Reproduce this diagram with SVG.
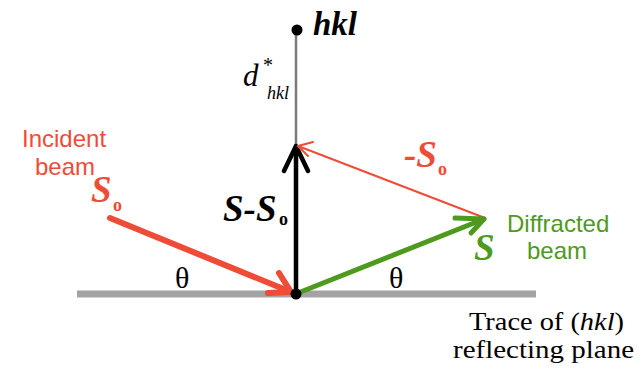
<svg xmlns="http://www.w3.org/2000/svg" width="643" height="371" viewBox="0 0 643 371">
<style>
.serif{font-family:"Liberation Serif","Times New Roman",serif}
.sans{font-family:"Liberation Sans",Arial,sans-serif}
.bi{font-weight:bold;font-style:italic}
.red{fill:#ee4c37}
.green{fill:#4e9a1e}
</style>
<rect width="643" height="371" fill="#fff"/>
<g id="plane">
<line x1="77" y1="294" x2="536" y2="294" stroke="#a3a3a3" stroke-width="7"/>
</g>
<g id="connectors" fill="none" stroke-linecap="round" stroke-linejoin="round">
<line x1="296" y1="30" x2="296" y2="294" stroke="#7a7a7a" stroke-width="2.5"/>
<line x1="296" y1="294" x2="296" y2="147" stroke="#000" stroke-width="4.5"/>
<polyline points="284,171 296,146 308,171" stroke="#000" stroke-width="4.5"/>
<line x1="485" y1="218" x2="298" y2="146" stroke="#ee4c37" stroke-width="2"/>
<polyline points="313,142 298,146 308,156" stroke="#ee4c37" stroke-width="2"/>
<line x1="298" y1="293" x2="484" y2="219" stroke="#4e9a1e" stroke-width="5"/>
<polyline points="455,218 484,219 471,233" stroke="#4e9a1e" stroke-width="5"/>
<line x1="110" y1="218" x2="291" y2="292" stroke="#ee4c37" stroke-width="6"/>
<polyline points="268,293 291,292 279,273" stroke="#ee4c37" stroke-width="6"/>
</g>
<g id="origin"><circle cx="296" cy="294" r="5.5" fill="#000"/></g>
<g id="hkl-point">
<circle cx="297" cy="30" r="5.5" fill="#000"/>
<text x="313" y="35" class="serif bi" font-size="33">hkl</text>
<text x="243" y="86" class="serif" font-style="italic" font-size="31">d</text>
<text x="263" y="72" class="serif" font-size="20">*</text>
<text x="267" y="99" class="serif" font-style="italic" font-size="18">hkl</text>
</g>
<g id="incident">
<text x="22" y="147" class="sans red" font-size="24">Incident</text>
<text x="35" y="175" class="sans red" font-size="24">beam</text>
<text x="91" y="202" class="serif bi red" font-size="37">S</text>
<text x="113" y="211" class="serif red" font-weight="bold" font-size="18">o</text>
<text x="175" y="288" class="serif" font-size="30">θ</text>
</g>
<g id="difference">
<text x="223" y="221" class="serif bi" font-size="37">S-S</text>
<text x="279" y="225" class="serif" font-weight="bold" font-size="18">o</text>
</g>
<g id="minus-s0">
<text x="404" y="167" class="serif bi red" font-size="37">-S</text>
<text x="438" y="175" class="serif red" font-weight="bold" font-size="18">o</text>
</g>
<g id="diffracted">
<text x="474" y="260" class="serif bi green" font-size="37">S</text>
<text x="507" y="232" class="sans green" font-size="24">Diffracted</text>
<text x="527" y="259" class="sans green" font-size="24">beam</text>
<text x="389" y="288" class="serif" font-size="30">θ</text>
</g>
<g id="trace">
<text x="469" y="330" class="serif" font-size="26" textLength="155" lengthAdjust="spacingAndGlyphs">Trace of (<tspan font-style="italic">hkl</tspan>)</text>
<text x="453" y="358" class="serif" font-size="26" textLength="181" lengthAdjust="spacingAndGlyphs">reflecting plane</text>
</g>
</svg>
